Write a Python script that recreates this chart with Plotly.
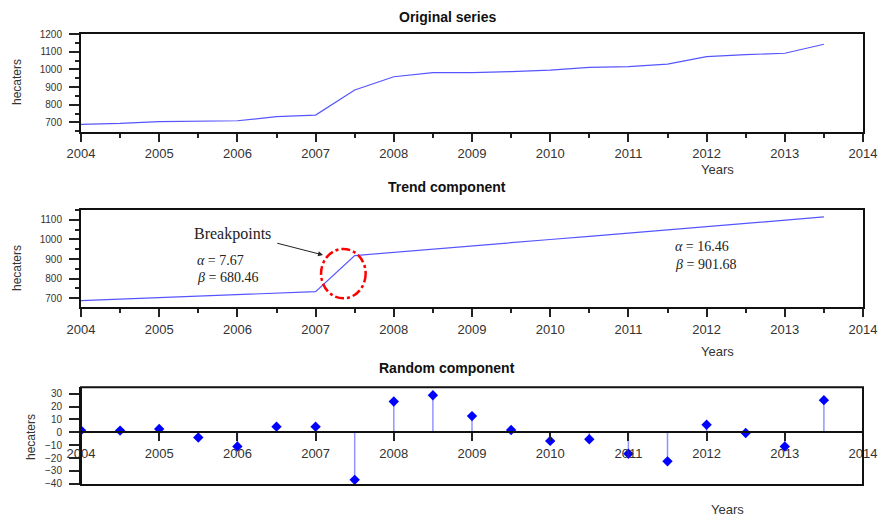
import plotly.graph_objects as go

years = [2004.0, 2004.5, 2005.0, 2005.5, 2006.0, 2006.5, 2007.0, 2007.5, 2008.0, 2008.5,
         2009.0, 2009.5, 2010.0, 2010.5, 2011.0, 2011.5, 2012.0, 2012.5, 2013.0, 2013.5]
original = [689, 694, 704, 708, 709, 732, 741, 883, 958, 981,
            981, 987, 996, 1011, 1015, 1030, 1072, 1083, 1091, 1142]
trend = [688, 696, 703, 711, 719, 726, 734, 918, 935, 951,
         967, 984, 1000, 1016, 1033, 1049, 1066, 1082, 1099, 1115]
random_c = [1.5, 1.3, 2.6, -4, -11, 4.4, 4.4, -37, 24, 28.8,
            12.6, 1.8, -6.7, -5.4, -16.7, -22.6, 5.9, -0.5, -11, 25]
year_ticks = list(range(2004, 2015))
titles = ["Original series", "Trend component", "Random component"]

# page body has an 8px margin, so positions are shifted by OFF
OFF = 8
W, H = 886, 520
XL, XR = 81, 863
panels = [(34, 131.7), (209.7, 307.3), (387.3, 485)]


def fx(px):
    return (px - OFF) / W


def fy(py):
    return 1 - (py - OFF) / H


def ydom(top, bot):
    return [fy(bot), fy(top)]


line_color = "rgb(85,85,255)"
font_sans = "Liberation Sans, Arial, sans-serif"
font_serif = "Liberation Serif, Times New Roman, serif"

fig = go.Figure()
fig.add_trace(go.Scatter(x=years, y=original, mode="lines", xaxis="x", yaxis="y",
                         line=dict(color=line_color, width=1.2), showlegend=False))
fig.add_trace(go.Scatter(x=years, y=trend, mode="lines", xaxis="x2", yaxis="y2",
                         line=dict(color=line_color, width=1.2), showlegend=False))

sx, sy = [], []
for xv, yv in zip(years, random_c):
    sx += [xv, xv, None]
    sy += [0, yv, None]
fig.add_trace(go.Scatter(x=sx, y=sy, mode="lines", xaxis="x3", yaxis="y3",
                         line=dict(color="rgba(90,90,255,0.65)", width=1.5), showlegend=False))
fig.add_trace(go.Scatter(x=years, y=random_c, mode="markers", xaxis="x3", yaxis="y3",
                         marker=dict(symbol="diamond", color="#0000ff", size=8),
                         showlegend=False))

xcommon = dict(range=[2004, 2014], tickvals=year_ticks, ticks="outside", ticklen=8,
               tickwidth=1.5, tickcolor="#222", showline=True, linewidth=2, linecolor="#111",
               showgrid=False, zeroline=False, automargin=False, ticklabelstandoff=1,
               tickfont=dict(family=font_sans, size=13, color="#333"),
               minor=dict(dtick=0.5, tick0=2004, ticks="outside", ticklen=4, tickcolor="#222"),
               domain=[fx(XL), fx(XR)])
ycommon = dict(ticks="outside", ticklen=10, tickwidth=1.5, tickcolor="#222", showline=True,
               linewidth=2, linecolor="#111", showgrid=False, zeroline=False, automargin=False,
               ticklabelstandoff=5,
               tickfont=dict(family=font_sans, size=10, color="#333"))

fig.update_layout(
    width=W, height=H, margin=dict(l=0, r=0, t=0, b=0, pad=0, autoexpand=False),
    paper_bgcolor="white", plot_bgcolor="white",
    xaxis=dict(xcommon, anchor="y", mirror=True),
    yaxis=dict(ycommon, domain=ydom(*panels[0]), range=[647, 1200],
               tickvals=[700, 800, 900, 1000, 1100, 1200], anchor="x", mirror=True,
               minor=dict(dtick=50, ticks="outside", ticklen=4, tickcolor="#222")),
    xaxis2=dict(xcommon, anchor="y2", mirror=True),
    yaxis2=dict(ycommon, domain=ydom(*panels[1]), range=[654, 1152],
                tickvals=[700, 800, 900, 1000, 1100], anchor="x2", mirror=True,
                minor=dict(dtick=50, ticks="outside", ticklen=4, tickcolor="#222")),
    xaxis3=dict(xcommon, anchor="free", position=fy(432.3), minor=dict(ticks="")),
    yaxis3=dict(ycommon, domain=ydom(*panels[2]), range=[-41, 35],
                tickvals=[-40, -30, -20, -10, 0, 10, 20, 30], anchor="x3"),
)

fig.add_shape(type="rect", xref="x3 domain", yref="y3 domain", x0=0, x1=1, y0=0, y1=1,
              line=dict(color="#111", width=2))

# Breakpoint ellipse
fig.add_shape(type="circle", xref="x2", yref="y2", x0=2007.07, x1=2007.64, y0=700, y1=952,
              line=dict(color="red", width=2.5, dash="dashdot"))

ann = []
title_y = [17, 187, 368]
for t, ty in zip(titles, title_y):
    ann.append(dict(text="<b>" + t + "</b>", x=fx(447), y=fy(ty), xref="paper", yref="paper",
                    xanchor="center", yanchor="middle", showarrow=False, borderpad=0,
                    font=dict(family=font_sans, size=14, color="#111")))
for (px, py) in [(717, 169), (717, 351), (727, 509)]:
    ann.append(dict(text="Years", x=fx(px), y=fy(py), xref="paper", yref="paper",
                    xanchor="center", yanchor="middle", showarrow=False,
                    font=dict(family=font_sans, size=13, color="#333")))
for (px, py) in [(17, 82), (17, 268), (31, 437)]:
    ann.append(dict(text="hecaters", x=fx(px), y=fy(py), xref="paper", yref="paper",
                    xanchor="center", yanchor="middle", textangle=-90, showarrow=False,
                    font=dict(family=font_sans, size=12, color="#333")))

ann.append(dict(text="Breakpoints", x=2005.94, y=1029, xref="x2", yref="y2", showarrow=False,
                xanchor="center", yanchor="middle",
                font=dict(family=font_serif, size=16, color="#222")))
ann.append(dict(text="", x=2007.095, y=921, ax=2006.49, ay=983, xref="x2", yref="y2",
                axref="x2", ayref="y2", showarrow=True, arrowhead=2, arrowsize=1,
                arrowwidth=1, arrowcolor="#222"))
for txt, xv, yv in [("<i>α</i> = 7.67", 2005.46, 891), ("<i>β</i> = 680.46", 2005.46, 804),
                    ("<i>α</i> = 16.46", 2011.57, 962), ("<i>β</i> = 901.68", 2011.57, 870)]:
    ann.append(dict(text=txt, x=xv, y=yv, xref="x2", yref="y2", xanchor="left",
                    yanchor="middle", showarrow=False,
                    font=dict(family=font_serif, size=14, color="#222")))

fig.update_layout(annotations=ann)
fig.write_html("out.html")
